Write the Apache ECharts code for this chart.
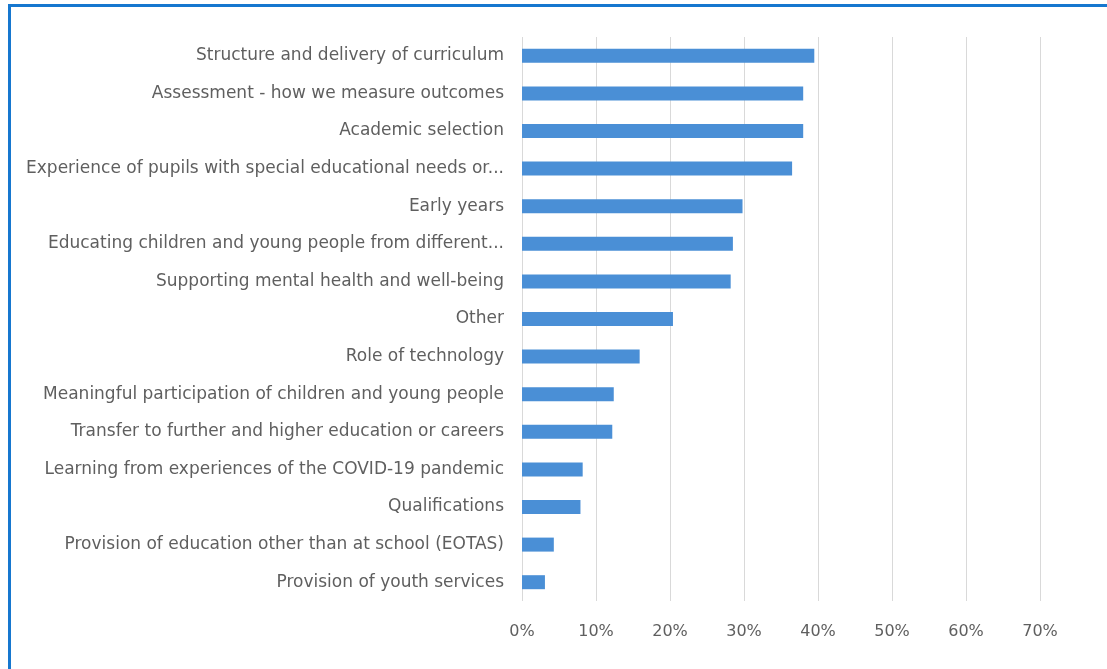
<!DOCTYPE html>
<html>
<head>
<meta charset="utf-8">
<script src="https://cdn.jsdelivr.net/npm/echarts@6/dist/echarts.min.js"></script>
<style>
  html, body { margin: 0; padding: 0; background: #ffffff; }
  #frame {
    position: absolute; left: 8px; top: 4px; width: 1200px; height: 800px;
    border-left: 3px solid #1677cf; border-top: 3px solid #1677cf;
    box-sizing: border-box;
  }
  #chart { position: absolute; left: 0; top: 0; width: 1107px; height: 669px; }
</style>
</head>
<body>
<div id="frame"></div>
<div id="chart"></div>
<script>
// Topics, in the order they appear from top to bottom
const categories = [
  "Structure and delivery of curriculum",
  "Assessment - how we measure outcomes",
  "Academic selection",
  "Experience of pupils with special educational needs or...",
  "Early years",
  "Educating children and young people from different...",
  "Supporting mental health and well-being",
  "Other",
  "Role of technology",
  "Meaningful participation of children and young people",
  "Transfer to further and higher education or careers",
  "Learning from experiences of the COVID-19 pandemic",
  "Qualifications",
  "Provision of education other than at school (EOTAS)",
  "Provision of youth services"
];

// Share of respondents per topic (%)
const shares = [39.5, 38.0, 38.0, 36.5, 29.8, 28.5, 28.2, 20.4, 15.9, 12.4, 12.2, 8.2, 7.9, 4.3, 3.1];

// Value axis ticks (%)
const tickMin = 0;
const tickMax = 70;
const tickStep = 10;

const labelFont = 'DejaVu Sans';

const chart = echarts.init(document.getElementById('chart'), null, { renderer: 'canvas' });
chart.setOption({
  animation: false,
  backgroundColor: 'transparent',
  grid: { left: 522, right: 67, top: 37, bottom: 68, containLabel: false },
  xAxis: {
    type: 'value',
    min: tickMin, max: tickMax, interval: tickStep,
    axisLine: { show: false },
    axisTick: { show: false },
    splitLine: { show: true, lineStyle: { color: '#d9d9d9', width: 1 } },
    axisLabel: {
      formatter: '{value}%', color: '#5f5f5f', fontSize: 16,
      fontFamily: labelFont, margin: 23
    }
  },
  yAxis: {
    type: 'category',
    data: categories,
    inverse: true,
    axisLine: { show: false },
    axisTick: { show: false },
    axisLabel: { color: '#5f5f5f', fontSize: 17, fontFamily: labelFont, margin: 18 }
  },
  series: [{
    type: 'bar',
    data: shares,
    barWidth: 14,
    itemStyle: { color: '#4a8fd6' }
  }]
});
</script>
</body>
</html>
